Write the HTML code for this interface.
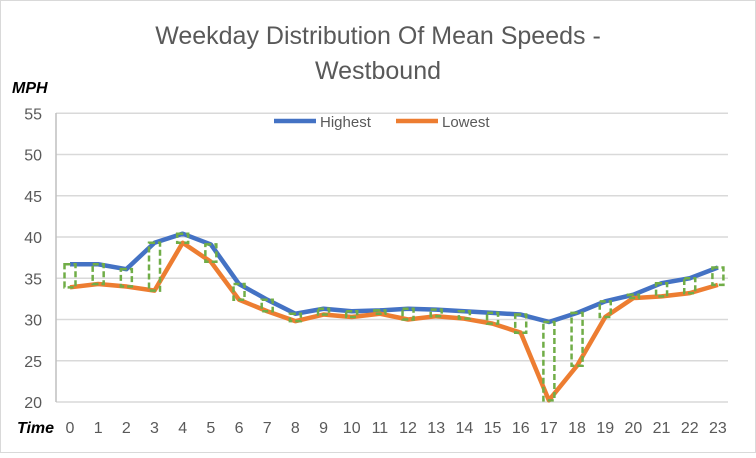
<!DOCTYPE html>
<html><head><meta charset="utf-8"><style>body{margin:0;background:#fff}</style></head><body>
<svg width="756" height="453" xmlns="http://www.w3.org/2000/svg" font-family="Liberation Sans, sans-serif">
<rect x="0.5" y="0.5" width="755" height="452" fill="#fff" stroke="#d9d9d9"/>
<text x="378" y="44" text-anchor="middle" font-size="25" fill="#595959">Weekday Distribution Of Mean Speeds -</text>
<text x="378" y="79" text-anchor="middle" font-size="25" fill="#595959">Westbound</text>
<text x="12" y="93" font-size="16" font-weight="bold" font-style="italic" fill="#000">MPH</text>
<text x="17" y="433" font-size="16" font-weight="bold" font-style="italic" fill="#000">Time</text>
<g id="grid" stroke="#d9d9d9" stroke-width="1.5"></g>
<line x1="56" y1="113" x2="56" y2="402" stroke="#bfbfbf" stroke-width="1.5"/>
<g id="lab" font-size="16" fill="#595959"></g>
<polyline id="hi" fill="none" stroke="#4472c4" stroke-width="4.5" stroke-linejoin="round"/>
<polyline id="lo" fill="none" stroke="#ed7d31" stroke-width="4.5" stroke-linejoin="round"/>
<g id="bars" fill="none" stroke="#70ad47" stroke-width="2.5" stroke-dasharray="6,3"></g>
<line x1="274" y1="121" x2="316" y2="121" stroke="#4472c4" stroke-width="4.5"/>
<text x="320" y="127" font-size="15" fill="#595959">Highest</text>
<line x1="396" y1="121" x2="438" y2="121" stroke="#ed7d31" stroke-width="4.5"/>
<text x="442" y="127" font-size="15" fill="#595959">Lowest</text>
<script>
var ns="http://www.w3.org/2000/svg";
function Y(v){return 237+(40-v)*8.25}
function X(i){return 70+28.17*i}
var g=document.getElementById('grid'),l=document.getElementById('lab');
for(var v=20;v<=55;v+=5){var e=document.createElementNS(ns,'line');e.setAttribute('x1',56);e.setAttribute('x2',728);e.setAttribute('y1',Y(v));e.setAttribute('y2',Y(v));g.appendChild(e);
var t=document.createElementNS(ns,'text');t.setAttribute('x',42);t.setAttribute('y',Y(v)+6);t.setAttribute('text-anchor','end');t.textContent=v;l.appendChild(t);}
for(var i=0;i<24;i++){var t=document.createElementNS(ns,'text');t.setAttribute('x',X(i));t.setAttribute('y',433);t.setAttribute('text-anchor','middle');t.textContent=i;l.appendChild(t);}
var H=[36.7,36.7,36.1,39.3,40.4,39.1,34.3,32.4,30.7,31.3,31,31.1,31.3,31.2,31,30.8,30.6,29.7,30.8,32.2,33,34.4,35,36.3];
var L=[33.9,34.3,34,33.5,39.3,37,32.4,31,29.8,30.6,30.3,30.7,30,30.4,30.1,29.5,28.4,20.2,24.4,30.3,32.6,32.8,33.2,34.2];
var b=document.getElementById('bars');
for(var i=0;i<24;i++){var r=document.createElementNS(ns,'rect');var y1=Y(H[i]),y2=Y(L[i]);r.setAttribute('x',X(i)-5.5);r.setAttribute('width',11);r.setAttribute('y',y1);r.setAttribute('height',Math.max(3,y2-y1));b.appendChild(r);}
document.getElementById('hi').setAttribute('points',H.map(function(v,i){return X(i)+','+Y(v)}).join(' '));
document.getElementById('lo').setAttribute('points',L.map(function(v,i){return X(i)+','+Y(v)}).join(' '));
</script>
</svg>
</body></html>
